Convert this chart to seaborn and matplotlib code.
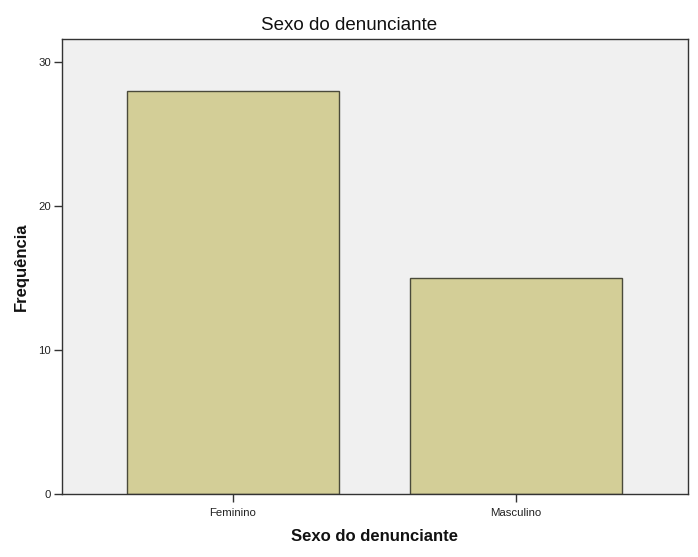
import matplotlib
matplotlib.use("Agg")
import matplotlib.pyplot as plt
import seaborn as sns
import pandas as pd

categories = ["Feminino", "Masculino"]
counts = [28, 15]
y_ticks = [0, 10, 20, 30]

sns.set_theme(style="white")
plt.rcParams['font.family'] = ['Liberation Sans', 'DejaVu Sans']

df = pd.DataFrame({"Sexo": categories, "Frequência": counts})

fig = plt.figure(figsize=(6.98, 5.57), dpi=100)
ax = fig.add_axes([61.7/698, 63/557, 626.3/698, 454.7/557])
ax.set_facecolor("#F0F0F0")

sns.barplot(data=df, x="Sexo", y="Frequência", ax=ax, color="#D3CE97",
            saturation=1, width=0.75, edgecolor="#4A4A3A", linewidth=1.0)

ax.set_xlim(-0.606, 1.609)
ax.set_ylim(0, 31.58)
ax.set_yticks(y_ticks)
ax.set_yticklabels([str(t) for t in y_ticks])

for s in ax.spines.values():
    s.set_color("#333333")
    s.set_linewidth(1.0)
    s.set_visible(True)

ax.tick_params(axis="both", which="both", direction="out", length=6, width=1,
               color="#333333", labelsize=8.2, labelcolor="#222222", pad=1.5,
               bottom=True, left=True)
ax.tick_params(axis="x", pad=4)

fig.text(0.5, 1 - 25/557, "Sexo do denunciante", ha="center", va="center",
         fontsize=13.5, color="#111111")
ax.set_xlabel("Sexo do denunciante", fontsize=12, fontweight="bold", labelpad=8, color="#111111")
ax.set_ylabel("Frequência", fontsize=12, fontweight="bold", labelpad=7, color="#111111")

fig.savefig("out.png", dpi=100)
